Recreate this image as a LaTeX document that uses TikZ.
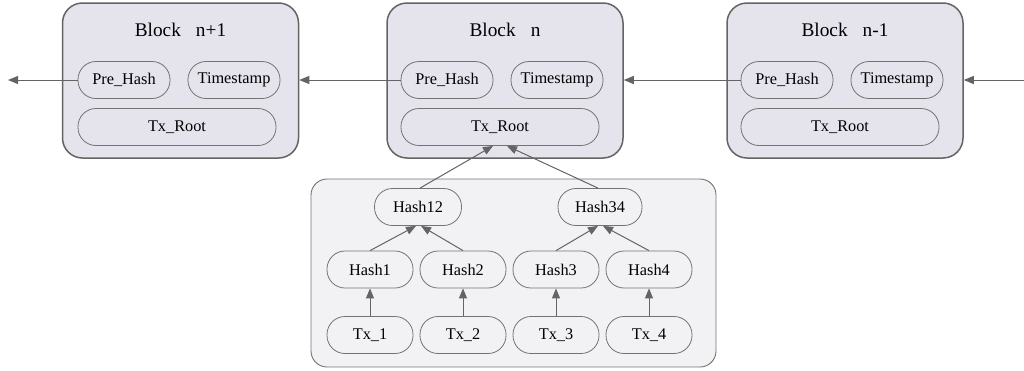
\documentclass[tikz,border=0pt]{standalone}
\usepackage{fontspec}
\setmainfont{Liberation Serif}
\usetikzlibrary{arrows.meta}
\definecolor{blockfill}{RGB}{229,227,236}
\definecolor{boxfill}{RGB}{242,242,244}
\definecolor{edgegray}{RGB}{100,100,100}
\definecolor{thingray}{RGB}{115,115,115}
\begin{document}
\begin{tikzpicture}[x=1pt,y=-1pt,
  blockbox/.style={draw=edgegray, line width=1.5pt, fill=blockfill, rounded corners=20pt, minimum width=236pt, minimum height=155pt, inner sep=0pt},
  merklebox/.style={draw=thingray, line width=0.9pt, fill=boxfill, rounded corners=16pt, minimum width=405pt, minimum height=188pt, inner sep=0pt},
  pill/.style={draw=thingray, line width=0.8pt, rounded corners=18pt, minimum height=37pt, inner sep=0pt, font=\fontsize{16.3pt}{18pt}\selectfont},
  title/.style={font=\fontsize{19.3pt}{22pt}\selectfont, inner sep=0pt},
  link/.style={draw=edgegray, line width=1pt, -{Triangle[length=10pt,width=8pt]}}
]
\useasboundingbox (0,0) rectangle (1024,370);
% blocks
\node[blockbox] (bA) at (180.5,80.5) {};
\node[blockbox] (bB) at (505,80.5) {};
\node[blockbox] (bC) at (845,80.5) {};
\node[title] (tA) at (180.5,30) {Block\hspace{0.78em}n+1};
\node[title] (tB) at (505,30) {Block\hspace{0.78em}n};
\node[title] (tC) at (845,30) {Block\hspace{0.78em}n-1};
% inner nodes
\node[pill, minimum width=92pt] (pA) at (124,80) {Pre\_Hash};
\node[pill, minimum width=92pt] (sA) at (234,80) {Timestamp};
\node[pill, minimum width=198pt] (rA) at (177,127) {Tx\_Root};
\node[pill, minimum width=92pt] (pB) at (447,80) {Pre\_Hash};
\node[pill, minimum width=92pt] (sB) at (557,80) {Timestamp};
\node[pill, minimum width=198pt] (rB) at (500,127) {Tx\_Root};
\node[pill, minimum width=92pt] (pC) at (787,80) {Pre\_Hash};
\node[pill, minimum width=92pt] (sC) at (897,80) {Timestamp};
\node[pill, minimum width=198pt] (rC) at (840,127) {Tx\_Root};
% merkle tree
\node[merklebox] (mk) at (513.5,273) {};
\node[pill, minimum width=87pt] (h12) at (418,207) {Hash12};
\node[pill, minimum width=84pt] (h34) at (600,207) {Hash34};
\node[pill, minimum width=86pt] (h1) at (370,269.5) {Hash1};
\node[pill, minimum width=86pt] (h2) at (463,269.5) {Hash2};
\node[pill, minimum width=86pt] (h3) at (556,269.5) {Hash3};
\node[pill, minimum width=86pt] (h4) at (649,269.5) {Hash4};
\node[pill, minimum width=86pt] (t1) at (370,335) {Tx\_1};
\node[pill, minimum width=86pt] (t2) at (463,335) {Tx\_2};
\node[pill, minimum width=86pt] (t3) at (556,335) {Tx\_3};
\node[pill, minimum width=86pt] (t4) at (649,335) {Tx\_4};
% chain links
\coordinate (outL) at (8,80);
\coordinate (inR) at (1024,80);
\draw[link] (pA.west) -- (outL);
\draw[link] (pB.west) -- (bA.east |- pB.west);
\draw[link] (pC.west) -- (bB.east |- pC.west);
\draw[link] (inR) -- (bC.east |- inR);
% tree links
\draw[link] (t1.north) -- (h1.south);
\draw[link] (t2.north) -- (h2.south);
\draw[link] (t3.north) -- (h3.south);
\draw[link] (t4.north) -- (h4.south);
\draw[link] (h1.north) -- ([xshift=-2pt]h12.south);
\draw[link] (h2.north) -- ([xshift=3pt]h12.south);
\draw[link] (h3.north) -- ([xshift=-2pt]h34.south);
\draw[link] (h4.north) -- ([xshift=3pt]h34.south);
\draw[link] ([xshift=2pt]h12.north) -- ([xshift=-7pt]rB.south);
\draw[link] ([xshift=-2pt]h34.north) -- ([xshift=7pt]rB.south);
\end{tikzpicture}
\end{document}
